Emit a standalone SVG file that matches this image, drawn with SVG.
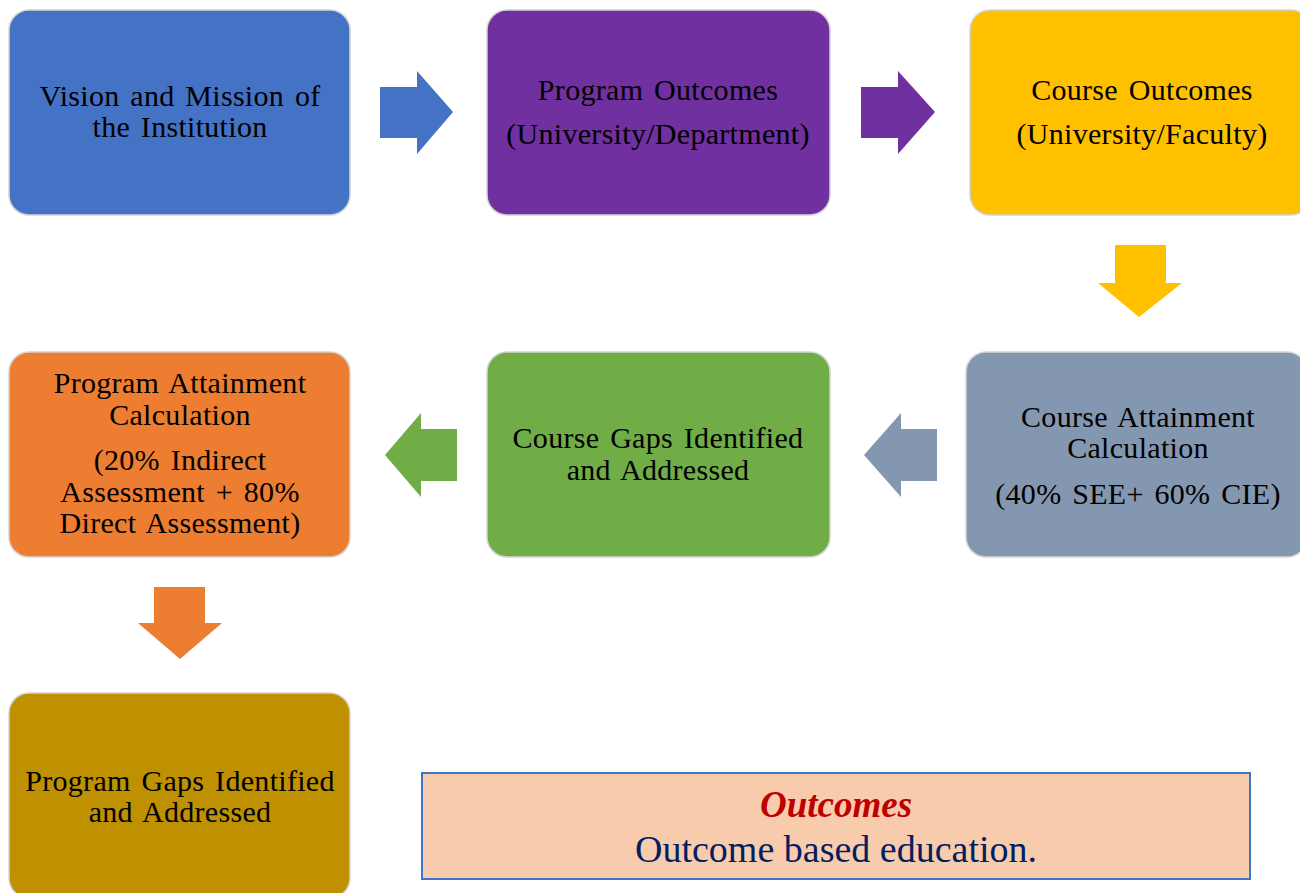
<svg xmlns="http://www.w3.org/2000/svg" width="1300" height="893" viewBox="0 0 1300 893">
  <style>
    .box { stroke: #d4d4d4; stroke-width: 1.5; }
    .lbl { font-family: "Liberation Serif", "Times New Roman", serif; font-size: 30px; letter-spacing: 0.3px; word-spacing: 3px; fill: #000; text-anchor: middle; }
    .title { font-family: "Liberation Serif", "Times New Roman", serif; font-size: 37px; font-weight: bold; font-style: italic; fill: #C00000; text-anchor: middle; }
    .sub { font-family: "Liberation Serif", "Times New Roman", serif; font-size: 38px; fill: #002060; text-anchor: middle; }
  </style>
  <rect width="1300" height="893" fill="#fff"/>

  <!-- block arrows between stages -->
  <g id="connectors">
    <path d="M380,87 H417 V71 L453,112 L417,154 V138 H380 Z" fill="#4472C4"/>
    <path d="M861,87 H898 V71 L935,112 L898,154 V138 H861 Z" fill="#7030A0"/>
    <path d="M1115,245 H1166 V283 H1182 L1139,317 L1098,283 H1115 Z" fill="#FFC000"/>
    <path d="M937,429 V481 H901 V497 L864,455 L901,413 V429 Z" fill="#8497B0"/>
    <path d="M457,429 V481 H421 V497 L385,455 L421,413 V429 Z" fill="#70AD47"/>
    <path d="M154,587 H205 V623 H222 L180,659 L138,623 H154 Z" fill="#ED7D31"/>
  </g>

  <g id="vision">
    <rect class="box" x="9" y="10" width="341" height="205" rx="20" fill="#4472C4"/>
    <text class="lbl" x="180" y="106">Vision and Mission of</text>
    <text class="lbl" x="180" y="137">the Institution</text>
  </g>

  <g id="program-outcomes">
    <rect class="box" x="487" y="10" width="343" height="205" rx="20" fill="#7030A0"/>
    <text class="lbl" x="658" y="100">Program Outcomes</text>
    <text class="lbl" x="658" y="144">(University/Department)</text>
  </g>

  <g id="course-outcomes">
    <rect class="box" x="970" y="10" width="341" height="205" rx="20" fill="#FFC000"/>
    <text class="lbl" x="1142" y="100">Course Outcomes</text>
    <text class="lbl" x="1142" y="144">(University/Faculty)</text>
  </g>

  <g id="course-attainment">
    <rect class="box" x="966" y="352" width="341" height="205" rx="20" fill="#8497B0"/>
    <text class="lbl" x="1138" y="427">Course Attainment</text>
    <text class="lbl" x="1138" y="458">Calculation</text>
    <text class="lbl" x="1138" y="504">(40% SEE+ 60% CIE)</text>
  </g>

  <g id="course-gaps">
    <rect class="box" x="487" y="352" width="343" height="205" rx="20" fill="#70AD47"/>
    <text class="lbl" x="658" y="448">Course Gaps Identified</text>
    <text class="lbl" x="658" y="480">and Addressed</text>
  </g>

  <g id="program-attainment">
    <rect class="box" x="9" y="352" width="341" height="205" rx="20" fill="#ED7D31"/>
    <text class="lbl" x="180" y="393">Program Attainment</text>
    <text class="lbl" x="180" y="425">Calculation</text>
    <text class="lbl" x="180" y="470">(20% Indirect</text>
    <text class="lbl" x="180" y="502">Assessment + 80%</text>
    <text class="lbl" x="180" y="533">Direct Assessment)</text>
  </g>

  <g id="program-gaps">
    <rect class="box" x="9" y="693" width="341" height="205" rx="20" fill="#BF9000"/>
    <text class="lbl" x="180" y="791">Program Gaps Identified</text>
    <text class="lbl" x="180" y="822">and Addressed</text>
  </g>

  <g id="outcomes-note">
    <rect x="422" y="773" width="828" height="106" fill="#F8CBAD" stroke="#4472C4" stroke-width="2"/>
    <text class="title" x="836" y="817">Outcomes</text>
    <text class="sub" x="836" y="862">Outcome based education.</text>
  </g>
</svg>
